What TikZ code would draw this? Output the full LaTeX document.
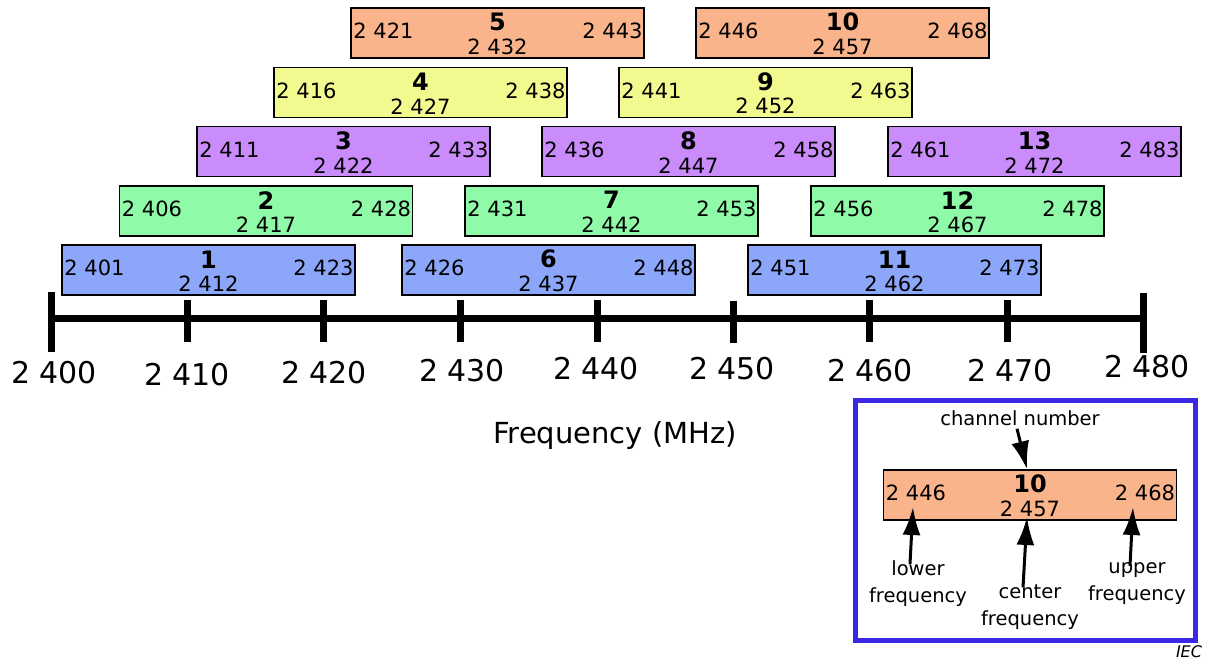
\documentclass[tikz,border=0pt]{standalone}
\usepackage{fontspec}
\setmainfont{DejaVu Sans}
\usetikzlibrary{arrows.meta}

\definecolor{rowblue}{RGB}{140,166,250}
\definecolor{rowgreen}{RGB}{143,250,168}
\definecolor{rowpurple}{RGB}{201,140,250}
\definecolor{rowyellow}{RGB}{242,250,143}
\definecolor{roworange}{RGB}{250,180,140}
\definecolor{legframe}{RGB}{58,40,230}

\begin{document}
\begin{tikzpicture}[x=1pt, y=-1pt, line join=miter,
  chbox/.style={draw=black, line width=1.5pt, minimum width=293pt, minimum height=50pt, inner sep=0pt},
  chnum/.style={inner sep=0pt, font=\fontsize{24}{28}\selectfont\bfseries},
  chmid/.style={inner sep=0pt, font=\fontsize{21}{25}\selectfont},
  chlo/.style={anchor=west, inner sep=0pt, font=\fontsize{21}{25}\selectfont},
  chhi/.style={anchor=east, inner sep=0pt, font=\fontsize{21}{25}\selectfont},
  axisline/.style={line width=7pt},
  ticklbl/.style={inner sep=0pt, font=\fontsize{30}{36}\selectfont},
  legtxt/.style={inner sep=0pt, align=center, font=\fontsize{19.5}{27}\selectfont},
  pointer/.style={line width=3pt, -{Latex[length=28pt,width=18pt]}}]

  %% ════ 频率轴 ════
  \draw[axisline] (50,318) -- (1143,318);
  \draw[axisline] (51,292) -- (51,352);
  \draw[axisline] (187,300) -- (187,342);
  \draw[axisline] (323,300) -- (323,342);
  \draw[axisline] (460,300) -- (460,342);
  \draw[axisline] (597,300) -- (597,342);
  \draw[axisline] (733,301) -- (733,343);
  \draw[axisline] (869,300) -- (869,342);
  \draw[axisline] (1007,300) -- (1007,342);
  \draw[axisline] (1143,293) -- (1143,353);

  %% ════ 刻度文字 ════
  \node[ticklbl] (f2400) at (54,373)   {2 400};
  \node[ticklbl] (f2410) at (187,375)  {2 410};
  \node[ticklbl] (f2420) at (324,373)  {2 420};
  \node[ticklbl] (f2430) at (462,371)  {2 430};
  \node[ticklbl] (f2440) at (596,369)  {2 440};
  \node[ticklbl] (f2450) at (732,369)  {2 450};
  \node[ticklbl] (f2460) at (870,371)  {2 460};
  \node[ticklbl] (f2470) at (1010,371) {2 470};
  \node[ticklbl] (f2480) at (1147,367) {2 480};
  \node[inner sep=0pt, font=\fontsize{29}{34}\selectfont] (axtitle) at (615,436) {Frequency (MHz)};

  %% ════ 信道框：第 1 行 ════
  \node[chbox, fill=rowblue] (ch1) at (208.5,270) {};
  \node[chlo] at ([xshift=3pt,yshift=2pt]ch1.west) {2 401};
  \node[chnum] at ([yshift=-15pt]ch1.north) {1};
  \node[chmid] at ([yshift=12pt]ch1.south) {2 412};
  \node[chhi] at ([xshift=-2pt,yshift=2pt]ch1.east) {2 423};

  \node[chbox, fill=rowblue] (ch6) at (548.5,270) {};
  \node[chlo] at ([xshift=3pt,yshift=2pt]ch6.west) {2 426};
  \node[chnum] at ([yshift=-15pt]ch6.north) {6};
  \node[chmid] at ([yshift=12pt]ch6.south) {2 437};
  \node[chhi] at ([xshift=-2pt,yshift=2pt]ch6.east) {2 448};

  \node[chbox, fill=rowblue] (ch11) at (894.5,270) {};
  \node[chlo] at ([xshift=3pt,yshift=2pt]ch11.west) {2 451};
  \node[chnum] at ([yshift=-15pt]ch11.north) {11};
  \node[chmid] at ([yshift=12pt]ch11.south) {2 462};
  \node[chhi] at ([xshift=-2pt,yshift=2pt]ch11.east) {2 473};

  %% ════ 信道框：第 2 行 ════
  \node[chbox, fill=rowgreen] (ch2) at (266,211) {};
  \node[chlo] at ([xshift=3pt,yshift=2pt]ch2.west) {2 406};
  \node[chnum] at ([yshift=-15pt]ch2.north) {2};
  \node[chmid] at ([yshift=12pt]ch2.south) {2 417};
  \node[chhi] at ([xshift=-2pt,yshift=2pt]ch2.east) {2 428};

  \node[chbox, fill=rowgreen] (ch7) at (611.5,211) {};
  \node[chlo] at ([xshift=3pt,yshift=2pt]ch7.west) {2 431};
  \node[chnum] at ([yshift=-15pt]ch7.north) {7};
  \node[chmid] at ([yshift=12pt]ch7.south) {2 442};
  \node[chhi] at ([xshift=-2pt,yshift=2pt]ch7.east) {2 453};

  \node[chbox, fill=rowgreen] (ch12) at (957.5,211) {};
  \node[chlo] at ([xshift=3pt,yshift=2pt]ch12.west) {2 456};
  \node[chnum] at ([yshift=-15pt]ch12.north) {12};
  \node[chmid] at ([yshift=12pt]ch12.south) {2 467};
  \node[chhi] at ([xshift=-2pt,yshift=2pt]ch12.east) {2 478};

  %% ════ 信道框：第 3 行 ════
  \node[chbox, fill=rowpurple] (ch3) at (343.5,151.5) {};
  \node[chlo] at ([xshift=3pt,yshift=2pt]ch3.west) {2 411};
  \node[chnum] at ([yshift=-15pt]ch3.north) {3};
  \node[chmid] at ([yshift=12pt]ch3.south) {2 422};
  \node[chhi] at ([xshift=-2pt,yshift=2pt]ch3.east) {2 433};

  \node[chbox, fill=rowpurple] (ch8) at (688.5,151.5) {};
  \node[chlo] at ([xshift=3pt,yshift=2pt]ch8.west) {2 436};
  \node[chnum] at ([yshift=-15pt]ch8.north) {8};
  \node[chmid] at ([yshift=12pt]ch8.south) {2 447};
  \node[chhi] at ([xshift=-2pt,yshift=2pt]ch8.east) {2 458};

  \node[chbox, fill=rowpurple] (ch13) at (1034.5,151.5) {};
  \node[chlo] at ([xshift=3pt,yshift=2pt]ch13.west) {2 461};
  \node[chnum] at ([yshift=-15pt]ch13.north) {13};
  \node[chmid] at ([yshift=12pt]ch13.south) {2 472};
  \node[chhi] at ([xshift=-2pt,yshift=2pt]ch13.east) {2 483};

  %% ════ 信道框：第 4 行 ════
  \node[chbox, fill=rowyellow] (ch4) at (420.5,92.5) {};
  \node[chlo] at ([xshift=3pt,yshift=2pt]ch4.west) {2 416};
  \node[chnum] at ([yshift=-15pt]ch4.north) {4};
  \node[chmid] at ([yshift=12pt]ch4.south) {2 427};
  \node[chhi] at ([xshift=-2pt,yshift=2pt]ch4.east) {2 438};

  \node[chbox, fill=rowyellow] (ch9) at (765.5,92.5) {};
  \node[chlo] at ([xshift=3pt,yshift=2pt]ch9.west) {2 441};
  \node[chnum] at ([yshift=-15pt]ch9.north) {9};
  \node[chmid] at ([yshift=12pt]ch9.south) {2 452};
  \node[chhi] at ([xshift=-2pt,yshift=2pt]ch9.east) {2 463};

  %% ════ 信道框：第 5 行 ════
  \node[chbox, fill=roworange] (ch5) at (497.5,33) {};
  \node[chlo] at ([xshift=3pt,yshift=2pt]ch5.west) {2 421};
  \node[chnum] at ([yshift=-15pt]ch5.north) {5};
  \node[chmid] at ([yshift=12pt]ch5.south) {2 432};
  \node[chhi] at ([xshift=-2pt,yshift=2pt]ch5.east) {2 443};

  \node[chbox, fill=roworange] (ch10) at (842.5,33) {};
  \node[chlo] at ([xshift=3pt,yshift=2pt]ch10.west) {2 446};
  \node[chnum] at ([yshift=-15pt]ch10.north) {10};
  \node[chmid] at ([yshift=12pt]ch10.south) {2 457};
  \node[chhi] at ([xshift=-2pt,yshift=2pt]ch10.east) {2 468};

  %% ════ 图例 ════
  \draw[legframe, line width=5pt] (855,400) rectangle (1195,640);
  \node[chbox, fill=roworange] (leg) at (1030,495) {};
  \node[chlo] at ([xshift=3pt,yshift=2pt]leg.west) {2 446};
  \node[chnum] at ([yshift=-15pt]leg.north) {10};
  \node[chmid] at ([yshift=12pt]leg.south) {2 457};
  \node[chhi] at ([xshift=-2pt,yshift=2pt]leg.east) {2 468};

  \node[legtxt] (chname) at (1020,418) {channel number};
  \node[legtxt] (lofreq) at (918,584)  {lower\\frequency};
  \node[legtxt] (mdfreq) at (1030,607) {center\\frequency};
  \node[legtxt] (hifreq) at (1137,584) {upper\\frequency};

  \coordinate (loTip) at (913,507);
  \coordinate (mdTip) at (1027,517);
  \coordinate (hiTip) at (1133,507);
  \draw[pointer] ([xshift=-3pt,yshift=-3pt]chname.south) -- ([xshift=-3pt]leg.north);
  \draw[pointer] ([xshift=-8pt,yshift=-3pt]lofreq.north) -- (loTip);
  \draw[pointer] ([xshift=-7pt,yshift=-3pt]mdfreq.north) -- (mdTip);
  \draw[pointer] ([xshift=-7pt,yshift=-3pt]hifreq.north) -- (hiTip);

  \node[inner sep=0pt, font=\fontsize{16}{18}\selectfont\itshape] (iec) at (1189,652) {IEC};

  % 钉死画布
  \pgfresetboundingbox
  \path[use as bounding box] (0,0) rectangle (1207,661);
\end{tikzpicture}
\end{document}
